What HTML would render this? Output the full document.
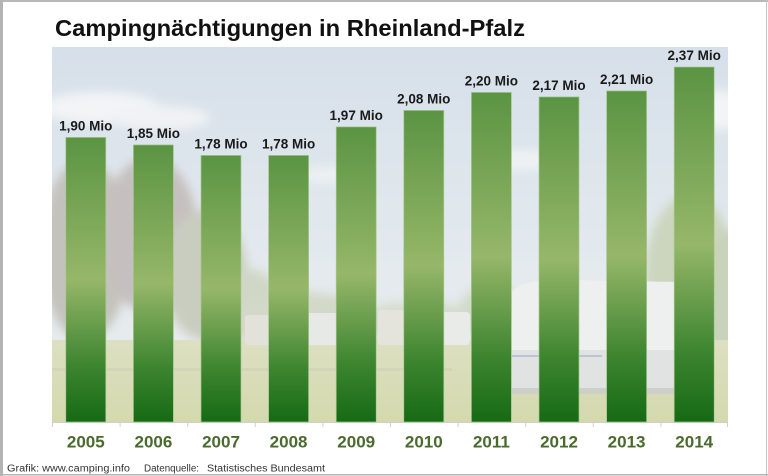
<!DOCTYPE html>
<html><head><meta charset="utf-8"><style>
html,body{margin:0;padding:0;background:#fff;}
svg{display:block;}
</style></head><body>
<svg width="768" height="476" viewBox="0 0 768 476" xmlns="http://www.w3.org/2000/svg" font-family="Liberation Sans, Arial, sans-serif">
<defs>
<linearGradient id="bar" x1="0" y1="0" x2="0" y2="1">
<stop offset="0" stop-color="#5a9442"/>
<stop offset="0.5" stop-color="#96b769"/>
<stop offset="0.8" stop-color="#3e8530"/>
<stop offset="1" stop-color="#166a14"/>
</linearGradient>
<linearGradient id="sky" x1="0" y1="0" x2="0" y2="1">
<stop offset="0" stop-color="#d6e0ea"/>
<stop offset="0.6" stop-color="#e4eaee"/>
<stop offset="1" stop-color="#e8ecec"/>
</linearGradient>
<linearGradient id="grass" x1="0" y1="0" x2="0" y2="1">
<stop offset="0" stop-color="#dce0c2"/>
<stop offset="1" stop-color="#d4d9ad"/>
</linearGradient>
<clipPath id="plot"><rect x="52" y="47" width="676" height="375"/></clipPath>
<filter id="blur" x="-10%" y="-10%" width="120%" height="120%"><feGaussianBlur stdDeviation="5"/></filter>
</defs>
<rect width="768" height="476" fill="#fff"/>
<!-- frame -->
<rect x="0" y="0" width="768" height="2" fill="#b8b8b8"/>
<rect x="0" y="0" width="3" height="476" fill="#b4b4b4"/>
<rect x="766" y="0" width="1" height="476" fill="#c4c4c4"/>
<rect x="0" y="474" width="768" height="1.5" fill="#b4b4b4"/>

<text x="55" y="36" font-size="23.5" font-weight="bold" fill="#111" textLength="470" lengthAdjust="spacingAndGlyphs">Campingnächtigungen in Rheinland-Pfalz</text>

<g clip-path="url(#plot)">
<rect x="52" y="47" width="676" height="375" fill="url(#sky)"/>
<g filter="url(#blur)">
<!-- clouds -->
<ellipse cx="100" cy="108" rx="60" ry="16" fill="#f2f4f6"/>
<ellipse cx="160" cy="118" rx="50" ry="12" fill="#f0f3f5"/>
<ellipse cx="520" cy="160" rx="40" ry="10" fill="#eef2f4"/>
<ellipse cx="720" cy="110" rx="25" ry="20" fill="#f2f4f5"/>
<ellipse cx="330" cy="175" rx="30" ry="8" fill="#edf1f3"/>
<!-- left trees -->
<ellipse cx="85" cy="250" rx="45" ry="90" fill="#c4c2bc"/>
<ellipse cx="150" cy="235" rx="48" ry="78" fill="#c6bfbf"/>
<ellipse cx="205" cy="275" rx="42" ry="65" fill="#c9cdc0"/>
<ellipse cx="250" cy="305" rx="30" ry="36" fill="#d0d7c6"/>
<!-- middle tree line -->
<ellipse cx="300" cy="318" rx="70" ry="26" fill="#d2d9c9"/>
<ellipse cx="420" cy="322" rx="70" ry="20" fill="#d5dccd"/>
<ellipse cx="490" cy="308" rx="30" ry="22" fill="#d2d9c8"/>
<!-- right trees -->
<ellipse cx="690" cy="275" rx="45" ry="80" fill="#ccd5be"/>
<ellipse cx="730" cy="300" rx="25" ry="70" fill="#c9d2ba"/>
</g>
<!-- grass -->
<rect x="52" y="340" width="676" height="82" fill="url(#grass)"/>
<rect x="52" y="368" width="400" height="3" fill="#cfd3b8" opacity="0.7"/>
<!-- small caravans -->
<rect x="245" y="315" width="50" height="30" fill="#e3e2da" rx="3"/>
<rect x="300" y="313" width="40" height="32" fill="#e7e9e7" rx="4"/>
<rect x="378" y="310" width="55" height="35" fill="#e5e4dc" rx="3"/>
<rect x="435" y="312" width="35" height="33" fill="#e9ebe9" rx="4"/>
<!-- big caravan -->
<path d="M512 292 Q520 280 560 280 L680 282 Q692 284 692 300 L692 388 L512 388 Z" fill="#eef0ef"/>
<rect x="512" y="350" width="180" height="38" fill="#e0e3e1"/>
<rect x="512" y="355" width="90" height="2" fill="#bcc5d8"/>
<rect x="512" y="388" width="180" height="6" fill="#ccd0c8"/>
</g>

<!-- axis -->
<line x1="52" y1="422.5" x2="728" y2="422.5" stroke="#d0d0d0" stroke-width="1"/>
<g stroke="#d0d0d0" stroke-width="1">
<line x1="52.5" y1="422" x2="52.5" y2="427"/>
<line x1="120.1" y1="422" x2="120.1" y2="427"/>
<line x1="187.7" y1="422" x2="187.7" y2="427"/>
<line x1="255.3" y1="422" x2="255.3" y2="427"/>
<line x1="322.9" y1="422" x2="322.9" y2="427"/>
<line x1="390.5" y1="422" x2="390.5" y2="427"/>
<line x1="458.1" y1="422" x2="458.1" y2="427"/>
<line x1="525.7" y1="422" x2="525.7" y2="427"/>
<line x1="593.3" y1="422" x2="593.3" y2="427"/>
<line x1="660.9" y1="422" x2="660.9" y2="427"/>
<line x1="727.5" y1="422" x2="727.5" y2="427"/>
</g>

<!-- bars -->
<g fill="url(#bar)" stroke="#a9c793" stroke-width="0.7">
<rect x="65.8" y="137.4" width="40" height="284.6"/>
<rect x="133.4" y="144.9" width="40" height="277.1"/>
<rect x="201.0" y="155.4" width="40" height="266.6"/>
<rect x="268.6" y="155.4" width="40" height="266.6"/>
<rect x="336.2" y="126.9" width="40" height="295.1"/>
<rect x="403.8" y="110.4" width="40" height="311.6"/>
<rect x="471.4" y="92.4" width="40" height="329.6"/>
<rect x="539.0" y="96.9" width="40" height="325.1"/>
<rect x="606.6" y="90.9" width="40" height="331.1"/>
<rect x="674.2" y="67.0" width="40" height="355.0"/>
</g>

<!-- value labels -->
<g font-size="13.5" font-weight="bold" fill="#1a1a1a" text-anchor="middle">
<text x="85.8" y="130.4">1,90 Mio</text>
<text x="153.4" y="137.9">1,85 Mio</text>
<text x="221.0" y="148.4">1,78 Mio</text>
<text x="288.6" y="148.4">1,78 Mio</text>
<text x="356.2" y="119.9">1,97 Mio</text>
<text x="423.8" y="103.4">2,08 Mio</text>
<text x="491.4" y="85.4">2,20 Mio</text>
<text x="559.0" y="89.9">2,17 Mio</text>
<text x="626.6" y="83.9">2,21 Mio</text>
<text x="694.2" y="60.0">2,37 Mio</text>
</g>

<!-- years -->
<g font-size="17" font-weight="bold" fill="#4b6a2e" text-anchor="middle">
<text x="85.8" y="447.5">2005</text>
<text x="153.4" y="447.5">2006</text>
<text x="221.0" y="447.5">2007</text>
<text x="288.6" y="447.5">2008</text>
<text x="356.2" y="447.5">2009</text>
<text x="423.8" y="447.5">2010</text>
<text x="491.4" y="447.5">2011</text>
<text x="559.0" y="447.5">2012</text>
<text x="626.6" y="447.5">2013</text>
<text x="694.2" y="447.5">2014</text>
</g>

<!-- footer -->
<g font-size="10" fill="#333">
<text x="7" y="471.5" textLength="123" lengthAdjust="spacingAndGlyphs">Grafik: www.camping.info</text>
<text x="144" y="471.5" textLength="55" lengthAdjust="spacingAndGlyphs">Datenquelle:</text>
<text x="207" y="471.5" textLength="118" lengthAdjust="spacingAndGlyphs">Statistisches Bundesamt</text>
</g>
</svg>
</body></html>
